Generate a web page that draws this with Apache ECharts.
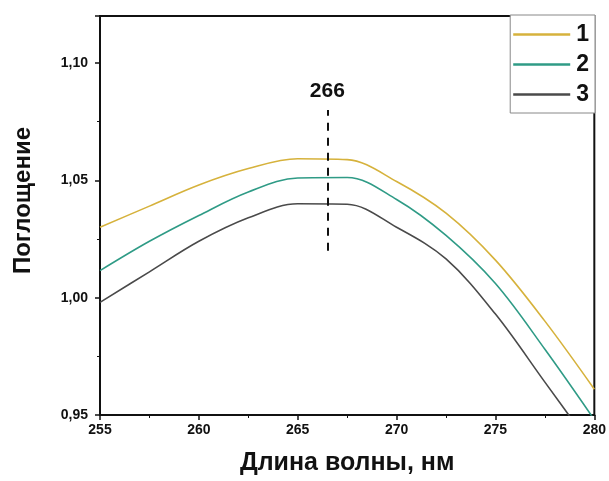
<!DOCTYPE html>
<html>
<head>
<meta charset="utf-8">
<script src="https://cdn.jsdelivr.net/npm/echarts@6/dist/echarts.min.js"></script>
<style>
  html, body { margin: 0; padding: 0; background: #fff; }
  #chart { width: 609px; height: 481px; }
</style>
</head>
<body>
<div id="chart"></div>
<script>
// spectra: [wavelength, absorbance]
var curve1 = [[255, 1.030], [257.5, 1.039], [260, 1.048], [262.5, 1.055], [265, 1.0592], [267.5, 1.0588],
              [270, 1.0495], [272.5, 1.036], [275, 1.016], [277.5, 0.990], [280, 0.961]];
var curve2 = [[255, 1.0115], [257.5, 1.024], [260, 1.035], [262.5, 1.045], [265, 1.051], [267.5, 1.0512],
              [270, 1.0418], [272.5, 1.0265], [275, 1.006], [277.5, 0.978], [280, 0.948]];
var curve3 = [[255, 0.998], [257.5, 1.011], [260, 1.024], [262.5, 1.034], [265, 1.040], [267.5, 1.0398],
              [270, 1.030], [272.5, 1.0165], [275, 0.993], [277.5, 0.964], [280, 0.935]];
var seriesNames = ['1', '2', '3'];
var seriesColors = ['#d6b23c', '#2f9b86', '#4a4a4a'];
var peakX = 266.5;
var peakLabel = '266';
var peakRange = [1.02, 1.08];

var chart = echarts.init(document.getElementById('chart'));
var font = 'Liberation Sans, Arial, sans-serif';

function makeSeries(i, data) {
    return {
        name: seriesNames[i],
        type: 'line',
        data: data,
        symbol: 'none',
        smooth: 0.35,
        lineStyle: { color: seriesColors[i], width: 1.6 },
        itemStyle: { color: seriesColors[i] },
        clip: true
    };
}

var series = [makeSeries(0, curve1), makeSeries(1, curve2), makeSeries(2, curve3)];
series[0].markLine = {
    silent: true,
    symbol: 'none',
    lineStyle: { color: '#111', width: 2, type: [8, 7] },
    label: {
        show: true,
        position: 'end',
        formatter: peakLabel,
        color: '#111',
        fontFamily: font,
        fontWeight: 'bold',
        fontSize: 21,
        distance: 8
    },
    data: [[{ coord: [peakX, peakRange[0]] }, { coord: [peakX, peakRange[1]] }]]
};

chart.setOption({
    backgroundColor: '#fff',
    animation: false,
    grid: {
        left: 100, right: 14, top: 16, bottom: 66,
        show: true, borderColor: '#111', borderWidth: 2
    },
    legend: {
        data: seriesNames,
        orient: 'vertical',
        right: 14,
        top: 15,
        padding: [8, 6, 7, 3],
        itemGap: 7,
        itemWidth: 57,
        itemHeight: 2.5,
        icon: 'rect',
        backgroundColor: '#fff',
        borderColor: '#888',
        borderWidth: 1,
        textStyle: { fontFamily: font, fontWeight: 'bold', fontSize: 23, color: '#111', padding: [0, 0, 0, 1] }
    },
    xAxis: {
        type: 'value',
        min: 255, max: 280, interval: 5,
        name: 'Длина волны, нм',
        nameLocation: 'middle',
        nameGap: 36,
        nameTextStyle: { fontFamily: font, fontWeight: 'bold', fontSize: 25, color: '#111' },
        axisLine: { lineStyle: { color: '#111', width: 2 } },
        axisTick: { length: 5, lineStyle: { color: '#111', width: 1.5 } },
        minorTick: { show: true, splitNumber: 2, length: 3, lineStyle: { color: '#111' } },
        splitLine: { show: false },
        axisLabel: { fontFamily: font, fontWeight: 'bold', fontSize: 14, color: '#111', margin: 8 }
    },
    yAxis: {
        type: 'value',
        min: 0.95, max: 1.12, interval: 0.05,
        name: 'Поглощение',
        nameLocation: 'middle',
        nameGap: 65,
        nameTextStyle: { fontFamily: font, fontWeight: 'bold', fontSize: 24, color: '#111', padding: [0, 0, 0, 30] },
        axisLine: { lineStyle: { color: '#111', width: 2 } },
        axisTick: { length: 5, lineStyle: { color: '#111', width: 1.5 } },
        minorTick: { show: true, splitNumber: 2, length: 3, lineStyle: { color: '#111' } },
        splitLine: { show: false },
        axisLabel: {
            fontFamily: font, fontWeight: 'bold', fontSize: 14, color: '#111', margin: 12,
            showMaxLabel: false,
            formatter: function (v) { return v.toFixed(2).replace('.', ','); }
        }
    },
    series: series
});
</script>
</body>
</html>
